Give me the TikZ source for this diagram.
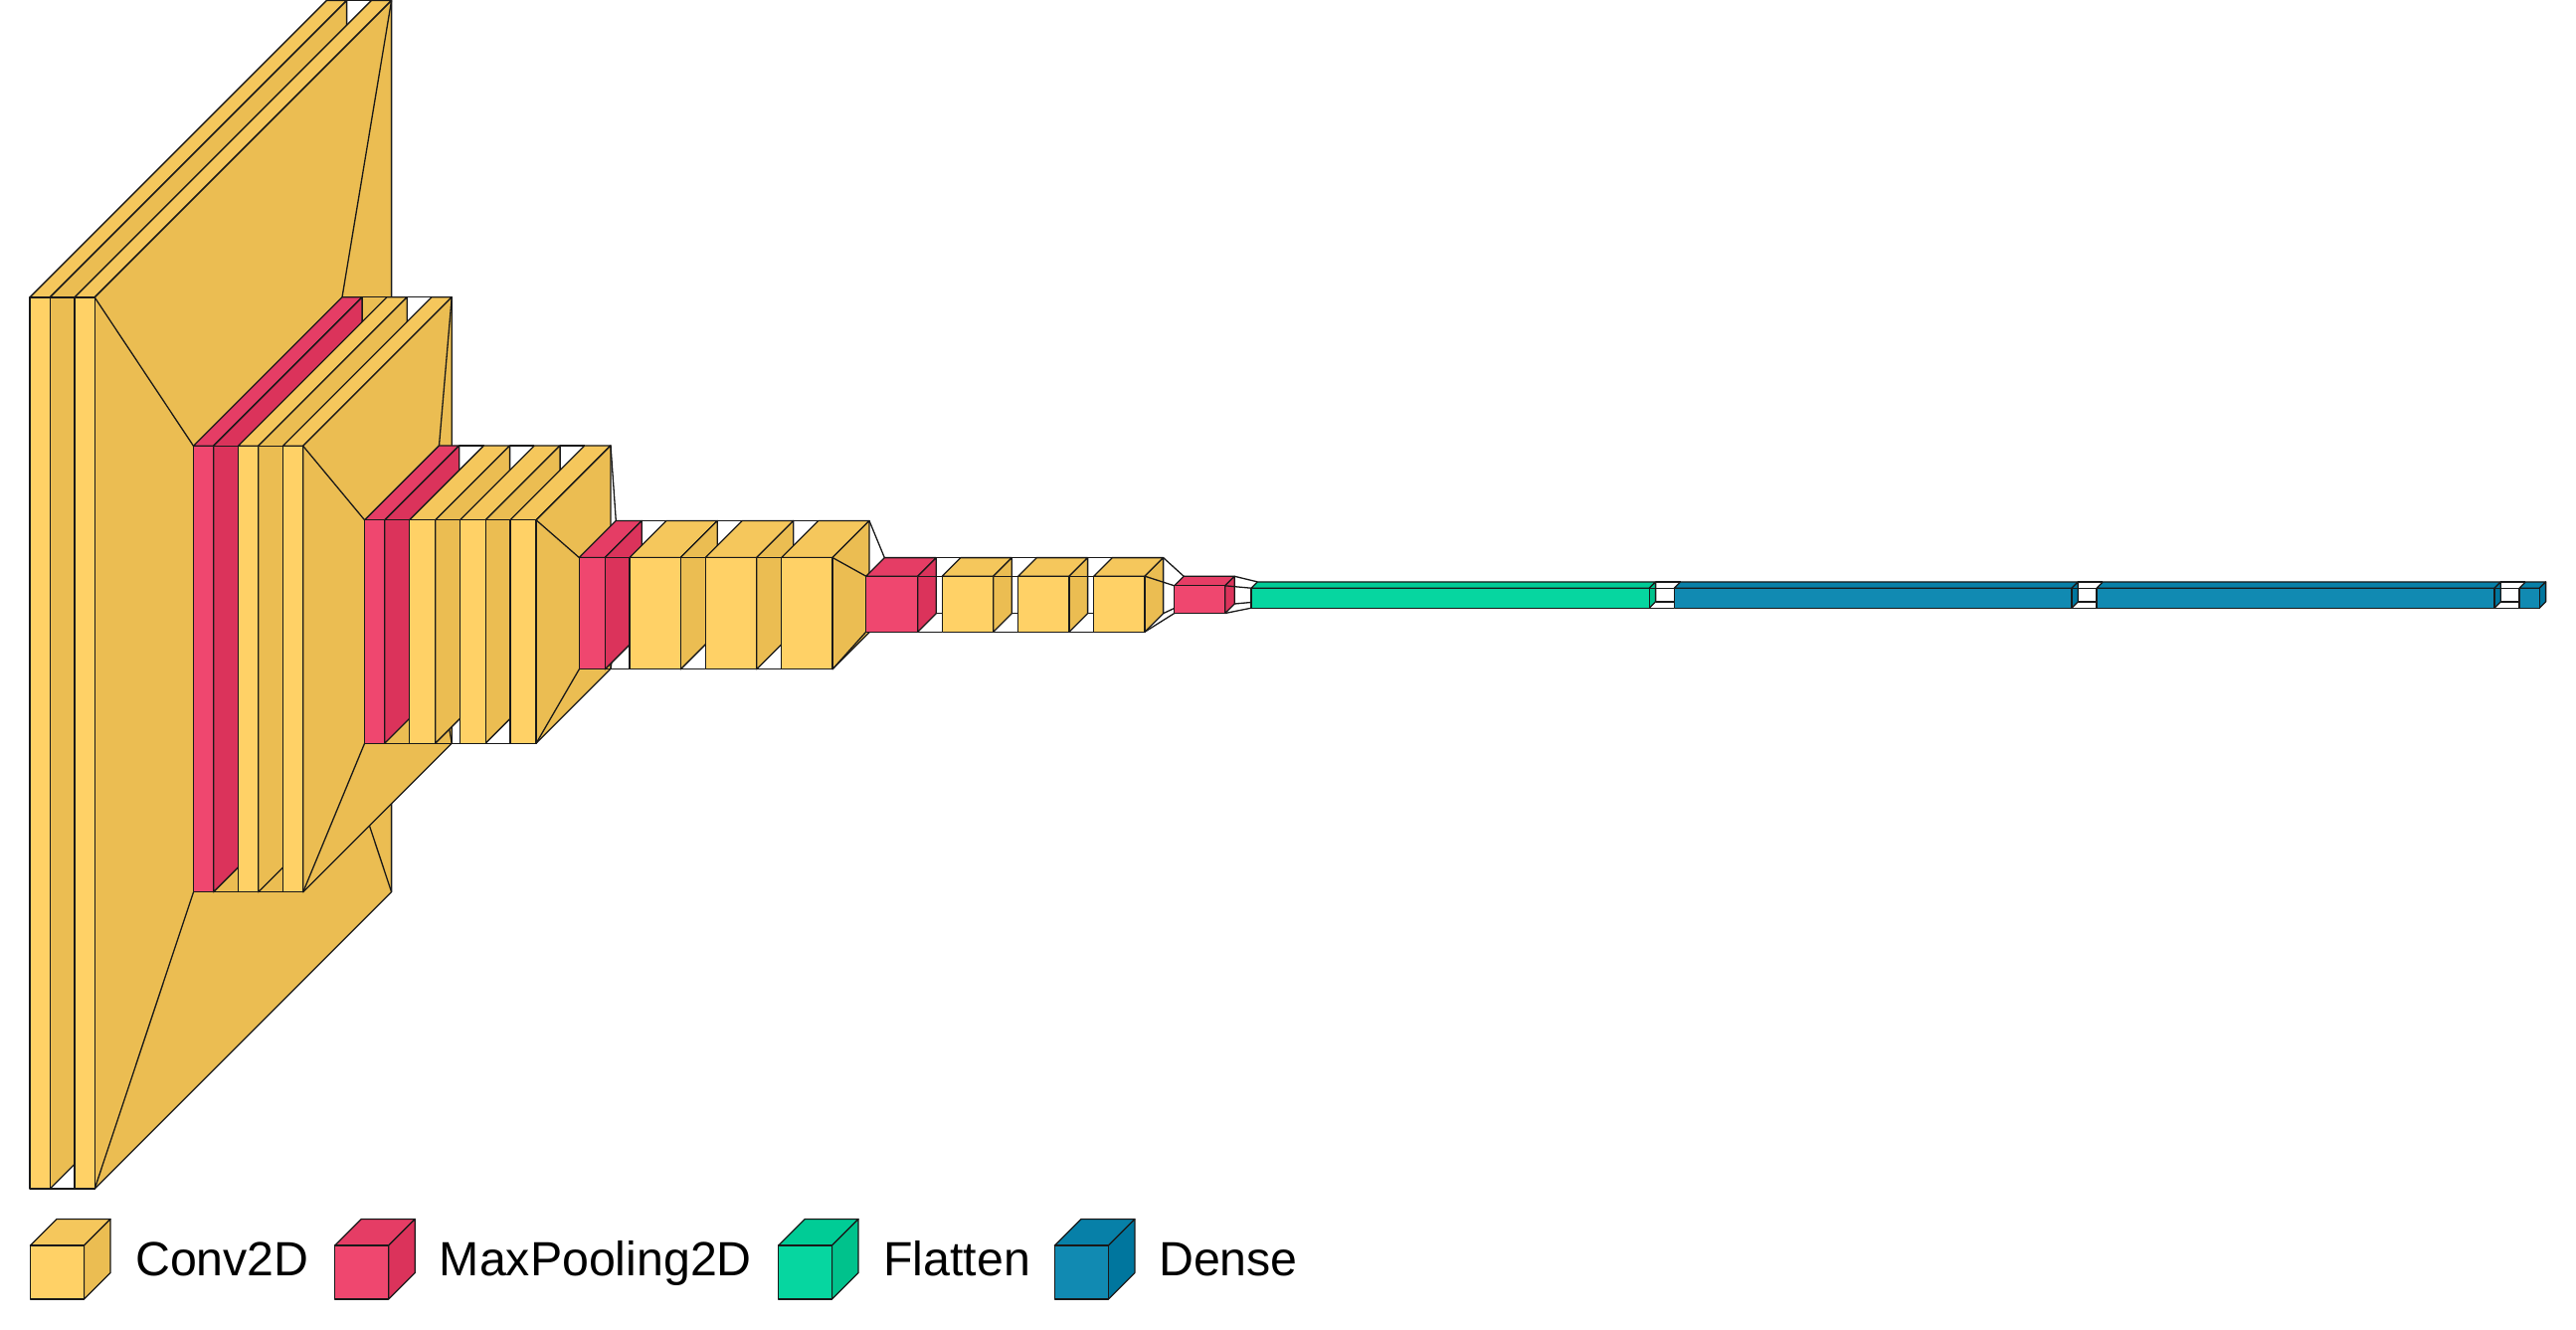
\documentclass[tikz,border=0pt]{standalone}
\usepackage{fontspec}
\setmainfont{Liberation Sans}
\usetikzlibrary{positioning}

\definecolor{convfront}{RGB}{255,209,102}
\definecolor{convtop}{RGB}{245,199,92}
\definecolor{convside}{RGB}{235,189,82}
\definecolor{poolfront}{RGB}{239,71,111}
\definecolor{pooltop}{RGB}{229,61,101}
\definecolor{poolside}{RGB}{219,51,91}
\definecolor{flatfront}{RGB}{6,214,160}
\definecolor{flattop}{RGB}{0,204,150}
\definecolor{flatside}{RGB}{0,194,140}
\definecolor{densefront}{RGB}{17,138,178}
\definecolor{densetop}{RGB}{7,128,168}
\definecolor{denseside}{RGB}{0,118,158}

\tikzset{
	edgeline/.style={draw=black!90,line width=1.3pt,line join=round},
	funnelline/.style={draw=black!90,line width=1.3pt},
	legendtext/.style={anchor=base west,inner sep=0pt,font=\fontsize{48.3}{50}\selectfont}
}

% #1 name, #2 left, #3 right, #4 top, #5 bottom, #6 depth
\newcommand{\placecube}[6]{
	\coordinate (#1ftl) at (#2,#4);
	\coordinate (#1ftr) at (#3,#4);
	\coordinate (#1fbl) at (#2,#5);
	\coordinate (#1fbr) at (#3,#5);
	\coordinate (#1btl) at (#2+#6,#4-#6);
	\coordinate (#1btr) at (#3+#6,#4-#6);
	\coordinate (#1bbl) at (#2+#6,#5-#6);
	\coordinate (#1bbr) at (#3+#6,#5-#6);
}
% #1 name, #2 colour prefix
\newcommand{\drawcube}[2]{
	\draw[edgeline,fill=#2top] (#1ftl) -- (#1btl) -- (#1btr) -- (#1ftr) -- cycle;
	\draw[edgeline,fill=#2side] (#1ftr) -- (#1btr) -- (#1bbr) -- (#1fbr) -- cycle;
	\draw[edgeline,fill=#2front] (#1ftl) rectangle (#1fbr);
}
\newcommand{\funnel}[2]{
	\draw[funnelline] (#1ftr) -- (#2ftl);
	\draw[funnelline] (#1fbr) -- (#2fbl);
	\draw[funnelline] (#1btr) -- (#2btl);
	\draw[funnelline] (#1bbr) -- (#2bbl);
}

\begin{document}
\begin{tikzpicture}[x=1pt,y=-1pt]
	\useasboundingbox (0,-0.5) rectangle (2590,1335.5);

	\placecube{conva}{30}{50.2}{298.4}{1194.6}{298.4}
	\placecube{convb}{75}{95.2}{298.4}{1194.6}{298.4}
	\placecube{poola}{194.5}{214.6}{447.8}{896.3}{149.5}
	\placecube{convc}{239.5}{259.7}{447.8}{896.3}{149.5}
	\placecube{convd}{284.5}{304.7}{447.8}{896.3}{149.5}
	\placecube{poolb}{366.6}{386.8}{522.3}{746.7}{74.9}
	\placecube{conve}{411.6}{437.7}{522.3}{746.7}{74.9}
	\placecube{convf}{462.5}{488.2}{522.3}{746.7}{74.9}
	\placecube{convg}{513}{539.1}{522.3}{746.7}{74.9}
	\placecube{poolc}{582.3}{608.3}{560}{672.3}{37}
	\placecube{convh}{633}{684.3}{560}{672.3}{37}
	\placecube{convi}{709.3}{760.7}{560}{672.3}{37}
	\placecube{convj}{785.7}{837}{560}{672.3}{37}
	\placecube{poold}{870.7}{922.7}{578.7}{634.7}{18.6}
	\placecube{convk}{947.3}{998.7}{578.7}{634.7}{18.6}
	\placecube{convl}{1023.7}{1075}{578.7}{634.7}{18.6}
	\placecube{convm}{1099.7}{1151}{578.7}{634.7}{18.6}
	\placecube{poole}{1180.7}{1231.7}{588.3}{616}{9.5}
	\placecube{flatten}{1258}{1658.3}{590.7}{610.7}{6.3}
	\placecube{densea}{1683.3}{2083}{590.7}{610.7}{6.3}
	\placecube{denseb}{2108}{2508}{590.7}{610.7}{6.3}
	\placecube{densec}{2533}{2553.3}{590.7}{610.7}{6.3}

	\drawcube{conva}{conv}
	\funnel{conva}{convb}
	\drawcube{convb}{conv}
	\funnel{convb}{poola}
	\drawcube{poola}{pool}
	\funnel{poola}{convc}
	\drawcube{convc}{conv}
	\funnel{convc}{convd}
	\drawcube{convd}{conv}
	\funnel{convd}{poolb}
	\drawcube{poolb}{pool}
	\funnel{poolb}{conve}
	\drawcube{conve}{conv}
	\funnel{conve}{convf}
	\drawcube{convf}{conv}
	\funnel{convf}{convg}
	\drawcube{convg}{conv}
	\funnel{convg}{poolc}
	\drawcube{poolc}{pool}
	\funnel{poolc}{convh}
	\drawcube{convh}{conv}
	\funnel{convh}{convi}
	\drawcube{convi}{conv}
	\funnel{convi}{convj}
	\drawcube{convj}{conv}
	\funnel{convj}{poold}
	\drawcube{poold}{pool}
	\funnel{poold}{convk}
	\drawcube{convk}{conv}
	\funnel{convk}{convl}
	\drawcube{convl}{conv}
	\funnel{convl}{convm}
	\drawcube{convm}{conv}
	\funnel{convm}{poole}
	\drawcube{poole}{pool}
	\funnel{poole}{flatten}
	\drawcube{flatten}{flat}
	\funnel{flatten}{densea}
	\drawcube{densea}{dense}
	\funnel{densea}{denseb}
	\drawcube{denseb}{dense}
	\funnel{denseb}{densec}
	\drawcube{densec}{dense}

	% legend
	\placecube{keyconv}{30.4}{84.4}{1251.6}{1305.6}{26.6}
	\drawcube{keyconv}{conv}
	\node[legendtext] (labelconv) at (136,1281.9) {Conv2D};
	\placecube{keypool}{336.6}{390.6}{1251.6}{1305.6}{26.6}
	\drawcube{keypool}{pool}
	\node[legendtext] (labelpool) at (441.6,1281.9) {MaxPooling2D};
	\placecube{keyflat}{782.6}{836.4}{1251.6}{1305.6}{26.6}
	\drawcube{keyflat}{flat}
	\node[legendtext] (labelflat) at (888,1281.9) {Flatten};
	\placecube{keydense}{1060.3}{1114.3}{1251.6}{1305.6}{26.6}
	\drawcube{keydense}{dense}
	\node[legendtext] (labeldense) at (1165,1281.9) {Dense};
\end{tikzpicture}
\end{document}
